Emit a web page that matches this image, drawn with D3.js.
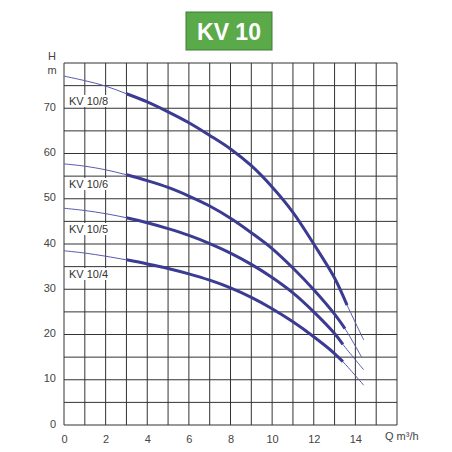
<!DOCTYPE html>
<html>
<head>
<meta charset="utf-8">
<script src="https://cdn.jsdelivr.net/npm/d3@7"></script>
<style>
    body { margin: 0; background: #fff; }
    text { font-family: "Liberation Sans Narrow", "Liberation Sans", Arial, sans-serif; }
</style>
</head>
<body>
<svg id="chart" width="452" height="452"></svg>
<script>
// data
let seriesNames = ["KV 10/8", "KV 10/6", "KV 10/5", "KV 10/4"];
let q108 = [0, 1, 2, 3, 4, 5, 6, 7, 8, 9, 10, 11, 12, 13, 13.6, 14.4];
let h108 = [77.1, 76.1, 74.9, 73.2, 71.4, 69.2, 66.8, 64.0, 61.0, 57.3, 52.6, 47.0, 40.0, 32.5, 26.5, 18.8];
let q106 = [0, 1, 2, 3, 4, 5, 6, 7, 8, 9, 10, 11, 12, 13, 13.5, 14.3];
let h106 = [57.7, 57.2, 56.4, 55.3, 54.0, 52.5, 50.6, 48.4, 45.7, 42.5, 39.0, 34.7, 29.9, 24.5, 21.3, 15.0];
let q105 = [0, 1, 2, 3, 4, 5, 6, 7, 8, 9, 10, 11, 12, 13, 13.4, 14.4];
let h105 = [47.9, 47.4, 46.7, 45.8, 44.7, 43.4, 41.9, 40.1, 38.0, 35.5, 32.6, 29.2, 25.0, 20.2, 17.8, 12.2];
let q104 = [0, 1, 2, 3, 4, 5, 6, 7, 8, 9, 10, 11, 12, 13, 13.4, 14.4];
let h104 = [38.5, 38.0, 37.3, 36.5, 35.6, 34.6, 33.4, 32.0, 30.3, 28.2, 25.7, 22.8, 19.5, 15.8, 14.0, 8.8];
let xTicks = [0, 2, 4, 6, 8, 10, 12, 14];
let yTicks = [0, 10, 20, 30, 40, 50, 60, 70];
let labelY = [105, 188, 233, 278];

let qs = [q108, q106, q105, q104];
let hs = [h108, h106, h105, h104];

let margin = {top: 63, right: 55, bottom: 27, left: 64};
let width = 397 - margin.left;
let height = 425 - margin.top;

let svg = d3.select("#chart");

// title badge
svg.append("rect")
    .attr("x", 186).attr("y", 12)
    .attr("width", 86).attr("height", 38)
    .style("fill", "#5aaa4a")
    .style("stroke", "#3f7d36");
svg.append("text")
    .attr("x", 229).attr("y", 40)
    .attr("text-anchor", "middle")
    .style("font-family", "\"Liberation Sans\", Arial, sans-serif")
    .style("font-weight", "bold")
    .style("font-size", "23px")
    .style("fill", "#fff")
    .text("KV 10");

let g = svg.append("g")
    .attr("transform", "translate(" + margin.left + "," + margin.top + ")");

let x = d3.scaleLinear().domain([0, 16]).range([0, width]);
let y = d3.scaleLinear().domain([0, 80]).range([height, 0]);

// grid
g.append("g")
    .selectAll("line")
    .data(d3.range(0, 17))
    .enter().append("line")
    .attr("x1", d => x(d)).attr("x2", d => x(d))
    .attr("y1", 0).attr("y2", height)
    .style("stroke", "#333")
    .style("stroke-width", 1);
g.append("g")
    .selectAll("line")
    .data(d3.range(0, 81, 5))
    .enter().append("line")
    .attr("x1", 0).attr("x2", width)
    .attr("y1", d => y(d)).attr("y2", d => y(d))
    .style("stroke", "#333")
    .style("stroke-width", 1);

// axes, labels only
let xAxis = d3.axisBottom(x).tickValues(xTicks).tickSize(0).tickPadding(10);
let yAxis = d3.axisLeft(y).tickValues(yTicks).tickSize(0).tickPadding(8);
let xg = g.append("g").attr("transform", "translate(0," + height + ")").call(xAxis);
let yg = g.append("g").call(yAxis);
[xg, yg].forEach(function (a) {
    a.select(".domain").remove();
    a.selectAll("text")
        .style("font-size", "11px")
        .style("fill", "#444");
});
yg.selectAll("text").attr("dy", "0.2em");

svg.append("text").attr("x", 52).attr("y", 60).attr("text-anchor", "middle")
    .style("font-size", "11px").style("fill", "#444").text("H");
svg.append("text").attr("x", 52).attr("y", 74).attr("text-anchor", "middle")
    .style("font-size", "11px").style("fill", "#444").text("m");
svg.append("text").attr("x", 385).attr("y", 440)
    .style("font-size", "11px").style("fill", "#444")
    .text("Q m³/h");

// curves
let line = d3.line()
    .x(d => x(d[0]))
    .y(d => y(d[1]))
    .curve(d3.curveCatmullRom);

seriesNames.forEach(function (name, i) {
    let pts = qs[i].map((q, j) => [q, hs[i][j]]);
    let thickEnd = qs[i][qs[i].length - 2];
    let thick = pts.filter(p => p[0] >= 3 && p[0] <= thickEnd);

    g.append("path")
        .attr("d", line(pts))
        .style("fill", "none")
        .style("stroke", "#5a5ab0")
        .style("stroke-width", 1);
    g.append("path")
        .attr("d", line(thick))
        .style("fill", "none")
        .style("stroke", "#3b3b93")
        .style("stroke-width", 3);

    // label with white box behind it
    let lab = svg.append("g");
    let bg = lab.append("rect").style("fill", "#fff");
    let t = lab.append("text")
        .attr("x", 69).attr("y", labelY[i])
        .style("font-size", "11px")
        .style("fill", "#333")
        .text(name);
    let bb = t.node().getBBox();
    bg.attr("x", bb.x - 1).attr("y", bb.y)
        .attr("width", bb.width + 2).attr("height", bb.height);
});
</script>
</body>
</html>
